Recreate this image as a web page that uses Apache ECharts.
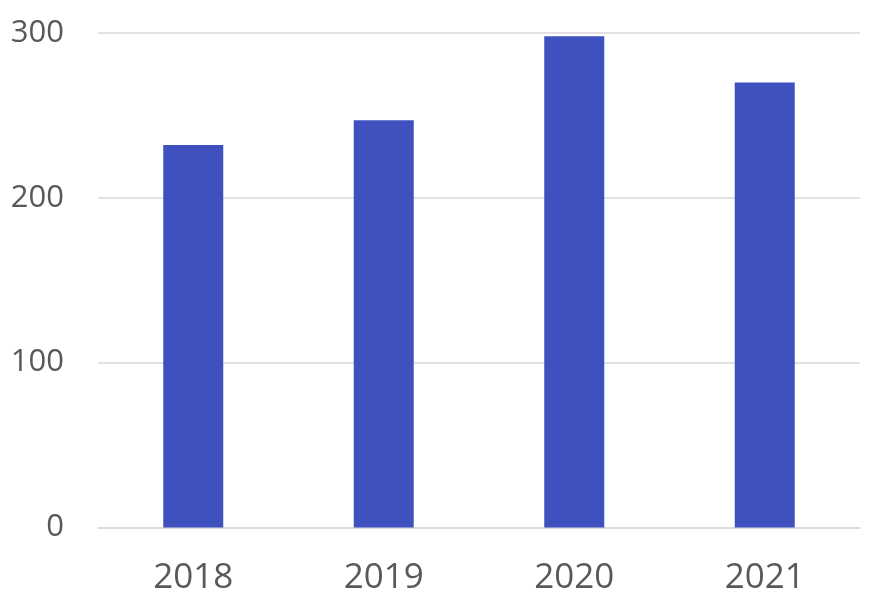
<!DOCTYPE html>
<html>
<head>
<meta charset="utf-8">
<script src="https://cdn.jsdelivr.net/npm/echarts@6/dist/echarts.min.js"></script>
<style>html,body{margin:0;padding:0;background:#fff}#c{width:870px;height:608px}</style>
</head>
<body>
<div id="c"></div>
<script>
var categories = ['2018', '2019', '2020', '2021'];
var values = [232, 247, 298, 270];
var yTicks = [0, 100, 200, 300];

var chart = echarts.init(document.getElementById('c'), null, {renderer: 'canvas'});
chart.setOption({
  animation: false,
  grid: {left: 98, right: 10, top: 33, bottom: 80.5, containLabel: false},
  xAxis: {
    type: 'category',
    data: categories,
    axisLine: {show: true, lineStyle: {color: '#D9D9D9', width: 1.5}},
    axisTick: {show: false},
    axisLabel: {color: '#595959', fontSize: 35, fontFamily: 'Open Sans', margin: 33}
  },
  yAxis: {
    type: 'value',
    min: yTicks[0],
    max: yTicks[yTicks.length - 1],
    interval: 100,
    axisLine: {show: false},
    axisTick: {show: false},
    splitLine: {lineStyle: {color: '#D9D9D9', width: 1.5}},
    axisLabel: {color: '#595959', fontSize: 31, fontFamily: 'Open Sans', margin: 34}
  },
  series: [{
    type: 'bar',
    data: values,
    barWidth: '31.5%',
    itemStyle: {color: '#3F51BF'}
  }]
});
</script>
</body>
</html>
